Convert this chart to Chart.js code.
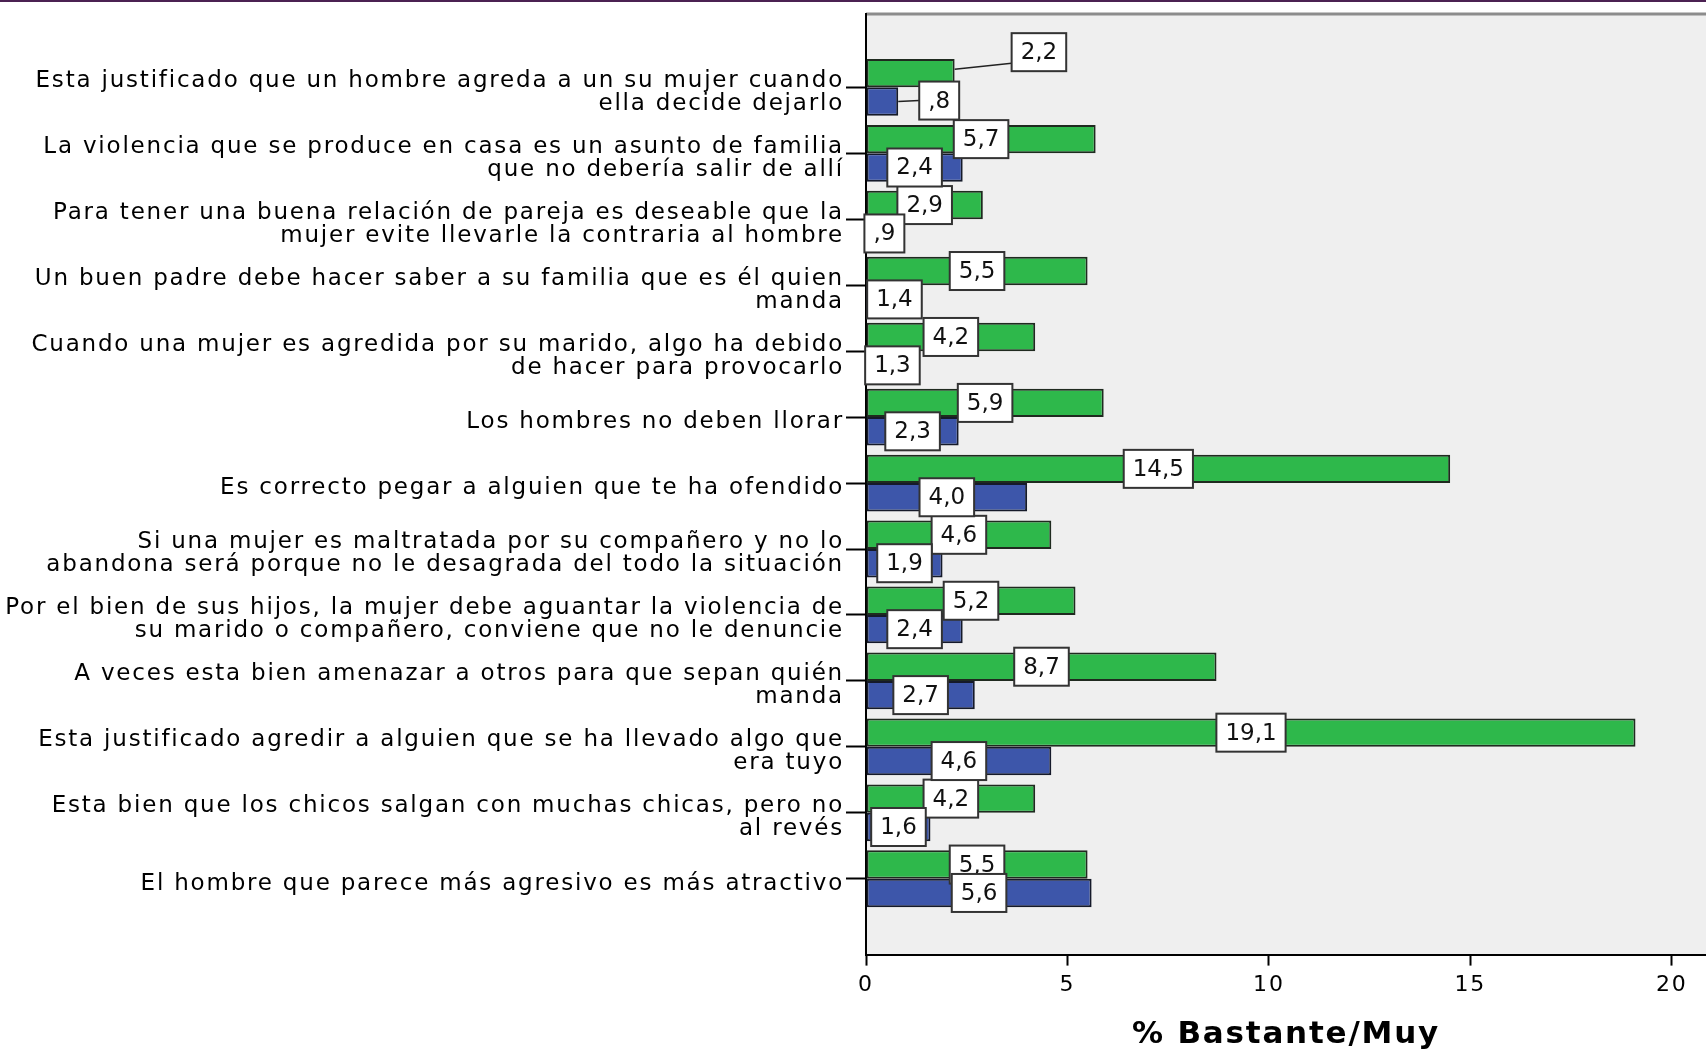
<!DOCTYPE html>
<html>
<head>
<meta charset="utf-8">
<script src="https://cdn.jsdelivr.net/npm/chart.js@4.4.1/dist/chart.umd.min.js"></script>
<style>
  html, body { margin: 0; padding: 0; background: #fff; }
  #wrap { position: relative; width: 1706px; height: 1050px; overflow: hidden; }
  #topline { position: absolute; left: 0; top: 0; width: 1706px; height: 2px; background: #4b2152; }
  canvas { display: block; }
</style>
</head>
<body>
<div id="wrap">
  <canvas id="chart" width="1706" height="1050"></canvas>
  <div id="topline"></div>
</div>
<script>
(function () {
  'use strict';

  var categories = [
    ['Esta justificado que un hombre agreda a un su mujer cuando', 'ella decide dejarlo'],
    ['La violencia que se produce en casa es un asunto de familia', 'que no debería salir de allí'],
    ['Para tener una buena relación de pareja es deseable que la', 'mujer evite llevarle la contraria al hombre'],
    ['Un buen padre debe hacer saber a su familia que es él quien', 'manda'],
    ['Cuando una mujer es agredida por su marido, algo ha debido', 'de hacer para provocarlo'],
    'Los hombres no deben llorar',
    'Es correcto pegar a alguien que te ha ofendido',
    ['Si una mujer es maltratada por su compañero y no lo', 'abandona será porque no le desagrada del todo la situación'],
    ['Por el bien de sus hijos, la mujer debe aguantar la violencia de', 'su marido o compañero, conviene que no le denuncie'],
    ['A veces esta bien amenazar a otros para que sepan quién', 'manda'],
    ['Esta justificado agredir a alguien que se ha llevado algo que', 'era tuyo'],
    ['Esta bien que los chicos salgan con muchas chicas, pero no', 'al revés'],
    'El hombre que parece más agresivo es más atractivo'
  ];

  var greenValues = [2.2, 5.7, 2.9, 5.5, 4.2, 5.9, 14.5, 4.6, 5.2, 8.7, 19.1, 4.2, 5.5];
  var blueValues = [0.8, 2.4, 0.9, 1.4, 1.3, 2.3, 4.0, 1.9, 2.4, 2.7, 4.6, 1.6, 5.6];

  var xTicks = [0, 5, 10, 15, 20];
  var axisTitle = '% Bastante/Muy';

  // labels that SPSS pushed out of the bar, with a leader line
  var labelNudges = {
    '0-0': { dx: 57, dy: -21, from: -4, to: 11 },
    '1-0': { dx: 21, dy: -1, from: 0, to: 0 }
  };

  var FONT = 'DejaVu Sans';
  var SPACING = '1.8px';

  function fmt(v) {
    return v.toFixed(1).replace('.', ',').replace(/^0,/, ',');
  }

  function points(values) {
    return values.map(function (v, i) { return { x: v, y: i }; });
  }

  var spacingPlugin = {
    id: 'spacing',
    beforeLayout: function (chart) {
      chart.ctx.letterSpacing = SPACING;
    },
    beforeDraw: function (chart) {
      var ctx = chart.ctx;
      var a = chart.chartArea;
      ctx.letterSpacing = SPACING;
      ctx.save();
      ctx.fillStyle = '#efefef';
      ctx.fillRect(a.left, a.top, a.right - a.left, a.bottom - a.top);
      ctx.strokeStyle = '#8c8c8c';
      ctx.lineWidth = 3;
      ctx.beginPath();
      ctx.moveTo(a.left, a.top + 0.5);
      ctx.lineTo(a.right, a.top + 0.5);
      ctx.stroke();
      ctx.restore();
    }
  };

  var boxPlugin = {
    id: 'valueBoxes',
    afterDatasetsDraw: function (chart) {
      var ctx = chart.ctx;
      ctx.save();
      ctx.letterSpacing = '0px';
      ctx.font = '23px "' + FONT + '"';
      ctx.textAlign = 'center';
      ctx.textBaseline = 'middle';
      chart.data.datasets.forEach(function (ds, di) {
        var meta = chart.getDatasetMeta(di);
        meta.data.forEach(function (bar, i) {
          var text = fmt(ds.data[i].x);
          var w = ctx.measureText(text).width + 18;
          var h = 38;
          var cx = (bar.x + bar.base) / 2;
          var cy = bar.y;
          var nudge = labelNudges[di + '-' + i];
          if (nudge) {
            var left = bar.x + nudge.dx;
            cx = left + w / 2;
            cy = bar.y + nudge.dy;
            ctx.strokeStyle = '#222';
            ctx.lineWidth = 1.5;
            ctx.beginPath();
            ctx.moveTo(bar.x, bar.y + nudge.from);
            ctx.lineTo(left, cy + nudge.to);
            ctx.stroke();
          }
          ctx.fillStyle = '#fff';
          ctx.fillRect(cx - w / 2, cy - h / 2, w, h);
          ctx.strokeStyle = '#333';
          ctx.lineWidth = 2;
          ctx.strokeRect(cx - w / 2, cy - h / 2, w, h);
          ctx.fillStyle = '#111';
          ctx.fillText(text, cx, cy + 1);
        });
      });
      ctx.restore();
    }
  };

  var ctx = document.getElementById('chart').getContext('2d');

  var chart = new Chart(ctx, {
    type: 'bar',
    data: {
      datasets: [
        {
          label: 'Grupo 1',
          data: points(greenValues),
          backgroundColor: '#2eb84b',
          borderColor: '#1f2a1f',
          borderWidth: 2,
          borderSkipped: false
        },
        {
          label: 'Grupo 2',
          data: points(blueValues),
          backgroundColor: '#3d56aa',
          borderColor: '#151a2a',
          borderWidth: 2,
          borderSkipped: false
        }
      ]
    },
    options: {
      indexAxis: 'y',
      responsive: false,
      animation: false,
      devicePixelRatio: 1,
      events: [],
      categoryPercentage: 0.861,
      barPercentage: 1,
      layout: { padding: { top: 11, left: 0, right: 0, bottom: 0 } },
      plugins: {
        legend: { display: false },
        tooltip: { enabled: false }
      },
      scales: {
        y: {
          type: 'linear',
          reverse: true,
          offset: false,
          min: -1.12,
          max: 13.15,
          afterBuildTicks: function (axis) {
            axis.ticks = categories.map(function (c, i) { return { value: i }; });
          },
          afterFit: function (axis) {
            axis.width = 866;
          },
          ticks: {
            autoSkip: false,
            stepSize: 1,
            includeBounds: false,
            padding: 2,
            labelOffset: 5,
            color: '#000',
            font: { family: FONT, size: 23, lineHeight: 1.0 },
            callback: function (v) { return categories[v]; }
          },
          grid: {
            offset: false,
            drawOnChartArea: false,
            tickLength: 20,
            tickWidth: 2,
            tickColor: '#000',
            color: '#000'
          },
          border: { display: true, color: '#000', width: 2 }
        },
        x: {
          type: 'linear',
          position: 'bottom',
          min: 0,
          max: 20.85,
          afterBuildTicks: function (axis) {
            axis.ticks = xTicks.map(function (v) { return { value: v }; });
          },
          ticks: {
            includeBounds: false,
            padding: 6,
            color: '#000',
            font: { family: FONT, size: 22, lineHeight: 1.2 },
            callback: function (v) { return String(v); }
          },
          grid: {
            drawOnChartArea: false,
            tickLength: 11,
            tickWidth: 2,
            tickColor: '#000',
            color: '#000'
          },
          border: { display: true, color: '#000', width: 2 },
          title: {
            display: true,
            text: axisTitle,
            color: '#000',
            font: { family: FONT, size: 31, weight: 'bold', lineHeight: 1.0 },
            padding: { top: 15, bottom: 0 }
          }
        }
      }
    },
    plugins: [spacingPlugin, boxPlugin]
  });
}());
</script>
</body>
</html>
